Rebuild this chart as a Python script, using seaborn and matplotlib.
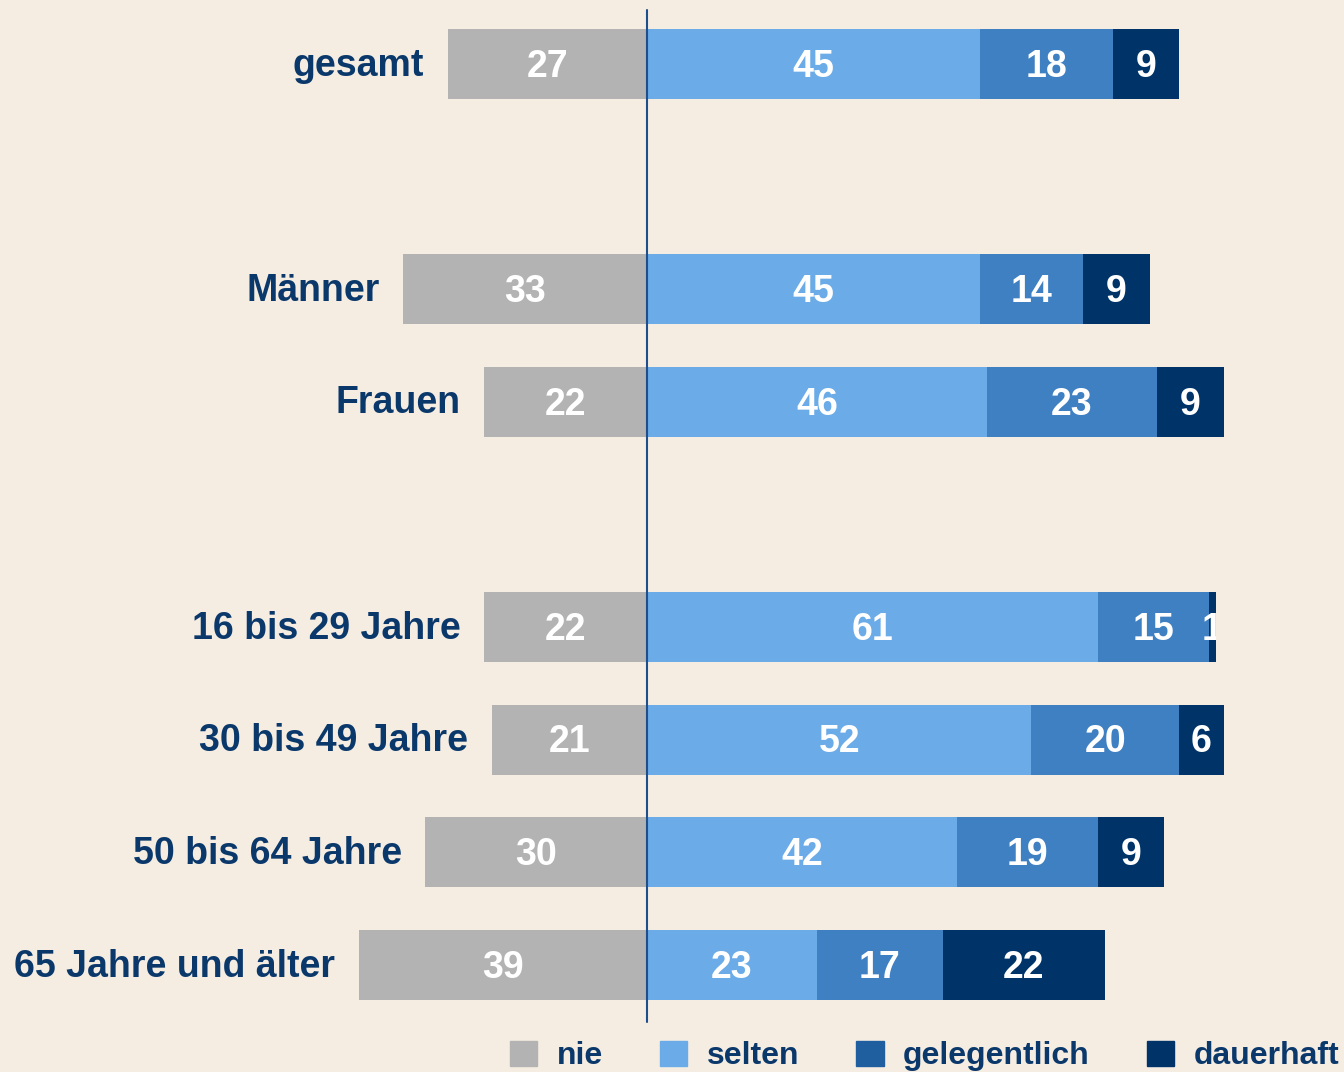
import matplotlib.pyplot as plt
import matplotlib.patches as mpatches
import seaborn as sns

# Data
groups = ["gesamt", "Männer", "Frauen", "16 bis 29 Jahre", "30 bis 49 Jahre",
          "50 bis 64 Jahre", "65 Jahre und älter"]
rows = [0, 2, 3, 5, 6, 7, 8]  # row slots, empty slots make the gaps
nie = [27, 33, 22, 22, 21, 30, 39]
selten = [45, 45, 46, 61, 52, 42, 23]
gelegentlich = [18, 14, 23, 15, 20, 19, 17]
dauerhaft = [9, 9, 9, 1, 6, 9, 22]

bg = "#f5ede2"
navy = "#0b386b"
bar_colors = {"nie": "#b3b3b3", "selten": "#6aabe8",
              "gelegentlich": "#3f80c2", "dauerhaft": "#003469"}
legend_colors = {"nie": "#b3b3b3", "selten": "#6aabe8",
                 "gelegentlich": "#1f5fa0", "dauerhaft": "#003469"}

sns.set_theme(style="white")
plt.rcParams["font.family"] = ["Liberation Sans", "DejaVu Sans"]
plt.rcParams["font.weight"] = "bold"

fig = plt.figure(figsize=(13.44, 10.72), dpi=100, facecolor=bg)
ax = fig.add_axes([0, 0, 1, 1])
ax.set_facecolor(bg)

h = 0.62
fs = 27
base = 0.113  # baseline shift below row centre (data units, y inverted)


def label_bars(bars, values, clips):
    for b, v, c in zip(bars, values, clips):
        cx = b.get_x() + b.get_width() / 2
        cy = b.get_y() + b.get_height() / 2
        t = ax.text(cx, cy + base, str(v), ha="center", va="baseline",
                    color="white", fontsize=fs, fontweight="bold")
        t.set_clip_on(True)
        t.set_clip_path(c)


# nie goes to the left of the zero line
b_nie = ax.barh(rows, [-v for v in nie], height=h, color=bar_colors["nie"],
                edgecolor="none", linewidth=0)
label_bars(b_nie, nie, b_nie)

totals = [s + g + d for s, g, d in zip(selten, gelegentlich, dauerhaft)]
right_clips = [mpatches.Rectangle((0, r - h / 2), t, h, transform=ax.transData)
               for r, t in zip(rows, totals)]

left = [0] * len(rows)
for name, vals in [("selten", selten), ("gelegentlich", gelegentlich),
                   ("dauerhaft", dauerhaft)]:
    bars = ax.barh(rows, vals, left=left, height=h, color=bar_colors[name],
                   edgecolor="none", linewidth=0)
    label_bars(bars, vals, right_clips)
    left = [l + v for l, v in zip(left, vals)]

# group names next to the left end of each bar
for r, g, v in zip(rows, groups, nie):
    ax.annotate(g, xy=(-v, r + base - 0.01), xytext=(-17, 0),
                textcoords="offset points", ha="right", va="baseline",
                color=navy, fontsize=fs, fontweight="bold")

ax.plot([0, 0], [-0.48, 8.51], color="#1f4e8c", lw=1.5)

ax.set_xlim(-87.55, 94.3)
ax.set_ylim(8.95, -0.568)
ax.axis("off")

# legend at the bottom
handles = [mpatches.Patch(color=legend_colors[k], label=k) for k in legend_colors]
fig.legend(handles=handles, loc="center right", ncol=4, frameon=False,
           bbox_to_anchor=(1339 / 1344, 1 - 1056 / 1072),
           labelcolor=navy, handlelength=0.85, handleheight=0.85,
           handletextpad=0.6, columnspacing=1.8, borderpad=0,
           borderaxespad=0, prop={"weight": "bold", "size": 23})

fig.savefig("out.png", dpi=100, facecolor=bg)
